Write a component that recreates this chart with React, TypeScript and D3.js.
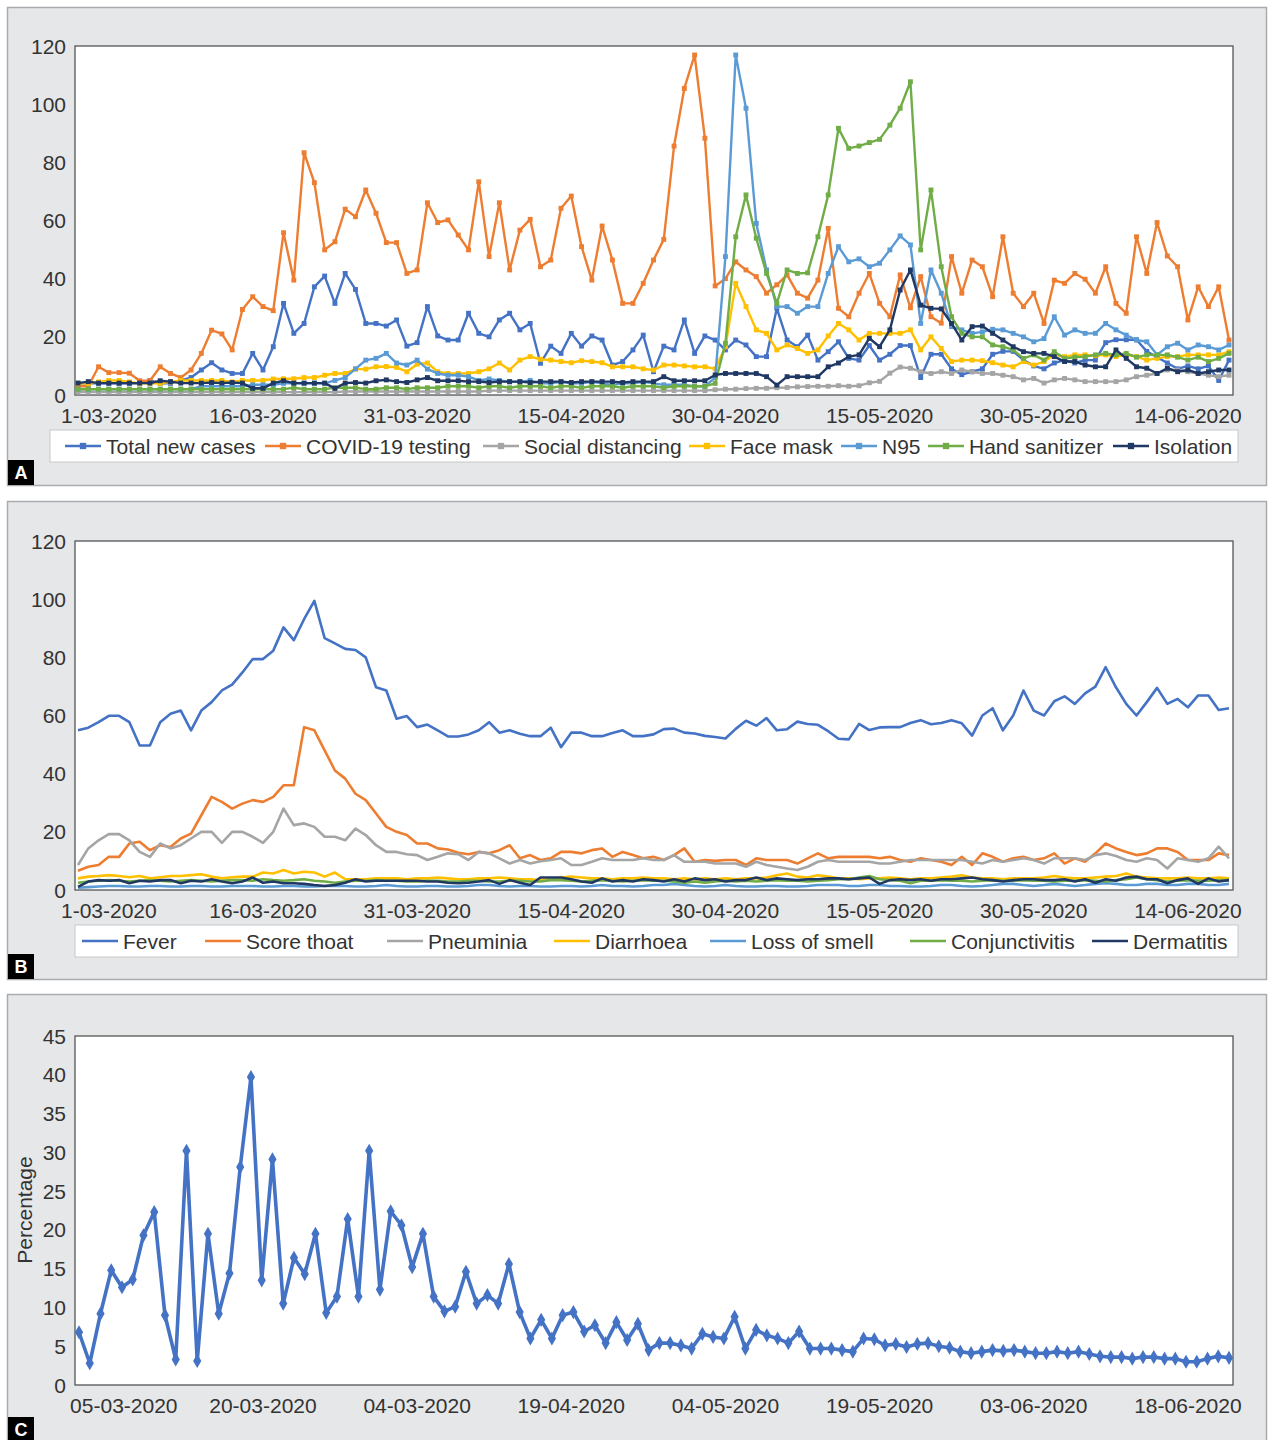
import React from "react";
import * as d3 from "d3";

// ---------- data ----------
const ticksAB = ["1-03-2020", "16-03-2020", "31-03-2020", "15-04-2020", "30-04-2020", "15-05-2020", "30-05-2020", "14-06-2020"];
const ticksC = ["05-03-2020", "20-03-2020", "04-03-2020", "19-04-2020", "04-05-2020", "19-05-2020", "03-06-2020", "18-06-2020"];
const tickDayIdx = [3, 18, 33, 48, 63, 78, 93, 108];

// panel A (113 days, 27-02-2020 .. 18-06-2020)
const totalNewCases = [4, 4, 4, 4, 4, 4, 4, 5, 4, 4, 5, 6, 8.6, 11.1, 8.6, 7.4, 7.4, 14.3, 8.6, 16.6, 31.5, 21.2, 24.6, 37.2, 40.9, 31.5, 41.8, 36.3, 24.6, 24.6, 23.7, 25.8, 16.8, 18, 30.4, 20.3, 18.9, 18.9, 28.1, 21.2, 20, 25.8, 28.1, 22.4, 24.6, 10.9, 16.8, 14.3, 21.2, 16.8, 20.3, 18.9, 10.3, 11.5, 15.5, 20.6, 8, 16.8, 15.5, 25.8, 14.3, 20.3, 18.9, 15.5, 18.9, 17.2, 13.2, 13.2, 29.8, 18.9, 16.6, 20.6, 12, 14.9, 18.3, 12.6, 12, 17, 12, 14, 17, 17, 6, 14, 14, 9, 7, 8, 9, 14, 15, 15, 12, 10, 9, 11, 12, 11, 12, 12, 18, 19, 19, 19, 15, 13, 11, 9, 10, 9, 10, 5, 12];
const covidTesting = [3, 3, 9.7, 7.7, 7.7, 7.5, 4.9, 4.9, 9.7, 7.4, 6, 8.6, 14.3, 22.3, 21, 15.5, 29.4, 33.8, 30.4, 29, 55.8, 39.5, 83.3, 73, 49.9, 52.7, 63.9, 61.3, 70.5, 62.5, 52.4, 52.4, 41.8, 43, 66.1, 59.3, 60.2, 55, 49.9, 73.3, 47.6, 66.1, 43, 56.7, 60.4, 44.1, 46.4, 64.2, 68.4, 51, 39.5, 58.1, 46.4, 31.5, 31.5, 38.4, 46.4, 53.5, 85.6, 105.4, 116.9, 88.3, 37.5, 40, 45.8, 43, 40.7, 35, 37.9, 41.3, 35, 33.3, 39.5, 57.3, 29.8, 26.9, 35, 41.8, 31.5, 26.9, 41.3, 30, 40.7, 26.9, 24.7, 47.6, 35, 46.4, 44.1, 33.8, 54.4, 35, 30.4, 35, 24.6, 39.5, 38.4, 41.8, 39.8, 35, 44.1, 31.5, 28.1, 54.4, 41.8, 59.3, 47.8, 44.1, 25.8, 37.2, 30.4, 37.2, 18.9];
const socialDistancing = [1, 1, 1, 1, 1, 1, 1, 1, 1, 1, 1, 1, 1, 1, 1, 1, 1, 1, 1, 1, 1, 1, 1, 1, 1, 1, 1.2, 1.2, 1.2, 1.2, 1.2, 1.2, 1.2, 1.2, 1.2, 1.2, 1.2, 1.2, 1.2, 1.2, 1.5, 1.5, 1.5, 1.5, 1.5, 1.5, 1.5, 1.5, 1.5, 1.5, 1.5, 1.5, 1.5, 1.5, 1.5, 1.5, 1.5, 1.5, 1.5, 1.5, 1.5, 1.5, 1.8, 2, 2, 2.2, 2.3, 2.3, 2.5, 2.6, 2.8, 2.9, 3, 3, 3.2, 3, 3.2, 4.2, 4.7, 7.5, 9.6, 9.2, 8, 7.4, 8, 7.4, 8.6, 8, 7.4, 7.4, 6.8, 6.3, 5.2, 5.7, 4.1, 5.2, 5.7, 5.2, 4.6, 4.6, 4.6, 4.6, 5.2, 6.3, 6.8, 7.4, 8.6, 8.6, 8, 7.4, 6.8, 6.3, 6.8];
const faceMask = [4, 4, 4.5, 5, 5, 4.5, 4, 4, 4, 4.5, 5, 5, 5, 5, 5, 4.5, 5, 5, 5, 5.5, 5.6, 5.6, 6, 6, 6.8, 7.4, 7.4, 8.9, 8.9, 9.7, 9.8, 9.5, 8, 10.6, 11, 8, 7.4, 7.4, 7.4, 8, 9, 11, 8.6, 12, 13.2, 12.3, 12, 11.5, 11.1, 11.8, 11.5, 11.1, 9.7, 9.7, 9.7, 9, 8.6, 10.3, 10.3, 10, 9.7, 9.7, 9, 16.6, 38.4, 30.4, 22.4, 21.2, 15.5, 17.2, 16, 14.3, 15.5, 20.3, 24.6, 22.4, 18.9, 21.2, 21.2, 21.2, 21.2, 22.4, 15.5, 20, 16, 11.5, 12, 12, 11.8, 11.1, 10.3, 9.7, 11.5, 10.3, 11.5, 13.8, 13.2, 13.8, 13.8, 13.5, 13.8, 13.2, 13.8, 13.2, 12, 12.6, 13.2, 13.2, 13.8, 13.8, 13.8, 13.8, 14.9];
const n95 = [2, 2, 2, 2, 2, 2, 2, 2, 2, 2, 2, 2, 3, 3, 3, 3, 3, 3.5, 3.5, 3.5, 4, 4, 4, 4, 4, 5, 6, 9, 12, 12.6, 14.3, 11, 10.3, 12, 8.9, 7.4, 6.8, 6.8, 6.3, 5, 5.5, 5, 4.5, 4.5, 5, 4, 4, 4.5, 4, 4, 4.5, 4, 3.5, 4, 4, 4.5, 4, 3.5, 3.5, 3.5, 3, 3, 6, 47.6, 116.9, 98.6, 59, 43, 30.4, 30.4, 28.1, 30.4, 30.4, 41.8, 51, 45.8, 46.8, 44.1, 45.3, 49.9, 54.7, 51.6, 24.6, 43, 35, 23.5, 22.4, 21.2, 21.7, 22.6, 22.4, 21.2, 20, 18.3, 19.4, 26.9, 20.6, 22.4, 21.2, 21.2, 24.6, 22.4, 20.6, 18.9, 18.3, 13.8, 16.6, 17.8, 15.5, 17.2, 16.6, 15.5, 17.2];
const handSanitizer = [2, 2, 2, 2, 2, 2, 2, 2, 2, 2, 2, 2, 2, 2, 2, 2, 2, 2, 2, 2, 2, 2.5, 2, 2, 2, 2.5, 2.5, 2.5, 2, 2, 2.5, 2.5, 2, 2.5, 2.5, 2.5, 3, 3, 3, 2.5, 3, 3, 2.5, 3, 3, 3, 2.5, 3, 3, 2.5, 3, 3, 3, 2.5, 3, 3, 3, 2.5, 3, 3, 3, 3, 4, 17.8, 54.4, 68.8, 53.9, 41.8, 31.5, 43, 41.8, 42, 54.4, 68.8, 91.7, 84.8, 85.6, 86.8, 87.9, 92.8, 98.6, 107.7, 49.9, 70.5, 44.1, 26.9, 21.2, 20, 20, 17.2, 16.6, 15.5, 12.6, 13.8, 12, 14.9, 12.6, 13, 13.2, 13.8, 14.3, 13.8, 14.3, 13, 13.8, 13.8, 13.8, 13, 12, 13, 11.5, 12.6, 14.3];
const isolation = [4.1, 4.6, 4.1, 4.1, 4.1, 4.1, 4.1, 4.1, 4.9, 4.6, 4.1, 4.1, 4.1, 4.3, 4.1, 4.3, 4.1, 2.3, 2.3, 4.1, 4.9, 4.1, 4.1, 4.1, 4.1, 2.3, 4.1, 4.3, 4.1, 4.9, 5.2, 4.6, 4.3, 5.2, 6, 4.9, 4.9, 4.9, 4.6, 4.6, 4.3, 4.6, 4.6, 4.6, 4.3, 4.6, 4.6, 4.6, 4.3, 4.6, 4.6, 4.6, 4.6, 4.3, 4.6, 4.6, 4.6, 6.3, 4.9, 4.9, 4.9, 4.9, 6.9, 7.4, 7.4, 7.4, 7.4, 6.3, 3.4, 6.3, 6.3, 6.3, 6.3, 9.7, 11, 13.2, 13.8, 19.5, 16.6, 22.4, 36.1, 43, 30.9, 29.8, 29.6, 24.6, 18.9, 23.5, 23.7, 21.2, 18.9, 16.6, 14.9, 14.3, 14.3, 13.2, 11.5, 11.5, 10.3, 9.7, 9.7, 15.5, 12.6, 9.7, 9.2, 7.4, 9.2, 8, 8.6, 7.4, 8, 8.6, 8.6];

// panel B (same 113 days)
const fever = [54.9, 55.8, 57.7, 59.9, 59.9, 57.7, 49.7, 49.7, 57.7, 60.6, 61.7, 54.9, 61.7, 64.6, 68.6, 70.6, 74.8, 79.4, 79.4, 82.3, 90.3, 85.9, 93.1, 99.4, 86.6, 84.8, 82.9, 82.5, 80, 69.7, 68.6, 58.9, 59.8, 56, 56.9, 54.9, 52.8, 52.8, 53.5, 54.9, 57.7, 54.1, 54.9, 53.7, 52.9, 52.9, 55.8, 49.1, 54.1, 54.1, 52.9, 52.9, 54, 54.9, 52.9, 52.9, 53.5, 55.3, 55.5, 54.1, 53.8, 53, 52.6, 52.1, 55.4, 58.2, 56.5, 59.1, 54.9, 55.3, 57.9, 57.1, 56.8, 54.6, 52, 51.8, 57.1, 55, 55.9, 56, 56, 57.4, 58.4, 57, 57.4, 58.4, 57.3, 53.1, 60, 62.5, 54.9, 60, 68.6, 61.7, 60, 64.9, 66.6, 64, 67.6, 69.9, 76.6, 69.7, 64, 60, 64.6, 69.5, 64, 65.7, 62.8, 66.9, 66.9, 61.9, 62.5];
const scoreThoat = [6.6, 8, 8.6, 11.4, 11.4, 16, 16.6, 13.7, 15.4, 14.8, 17.7, 19.4, 25.7, 32, 30.3, 28, 29.7, 30.9, 30.3, 32, 36, 36, 56, 54.9, 48, 41.1, 38.3, 33.1, 30.9, 26.3, 21.7, 20, 18.9, 16, 16, 14.3, 13.9, 12.8, 12.3, 13.1, 12.6, 13.7, 15.4, 10.9, 12, 10.3, 10.9, 13.1, 13.1, 12.6, 13.7, 14.3, 11.4, 13.1, 12, 10.9, 11.4, 10.3, 12, 14.3, 9.7, 10.3, 10, 10.3, 10.3, 8.6, 10.9, 10.3, 10.3, 10.3, 9.1, 10.9, 12.6, 10.9, 11.4, 11.4, 11.4, 11.4, 10.9, 11.4, 10.3, 9.7, 10.9, 10.3, 9.7, 8.6, 11.4, 8.6, 12.6, 11.4, 9.7, 10.9, 11.4, 10.3, 10.9, 12.6, 9.1, 10.9, 9.7, 12.6, 16, 14.3, 13.1, 12, 12.6, 14.3, 14.3, 13.1, 10.3, 10.3, 10.3, 12.6, 12];
const pneuminia = [8.6, 14.3, 17.1, 19.2, 19.2, 17.1, 13.1, 11.4, 16, 14.3, 15.4, 17.7, 20, 20, 16.2, 20, 20, 18.3, 16.2, 20, 28, 22.3, 22.9, 21.7, 18.3, 18.3, 17.1, 21.1, 18.9, 15.4, 13.1, 13.1, 12.3, 12, 10.3, 11.4, 12.6, 12.3, 10.3, 13.1, 12.6, 10.9, 9.1, 10.3, 9.1, 9.9, 10.3, 10.9, 8.6, 8.6, 9.7, 10.9, 10.3, 10.3, 10.3, 10.9, 10.3, 10.3, 12, 9.7, 9.7, 9.7, 9.1, 9.1, 9.1, 8, 9.7, 8.6, 8, 7.4, 6.9, 8, 9.7, 10.3, 9.7, 9.7, 9.7, 9.7, 9.1, 9.1, 9.7, 10.3, 10.3, 10.3, 10.3, 10.3, 10.3, 9.7, 9.1, 10.3, 9.7, 10.3, 10.9, 10.3, 9.1, 10.9, 10.9, 10.9, 10.3, 12, 12.6, 11.7, 10.3, 9.7, 10.9, 10.3, 7.4, 10.9, 10.3, 9.7, 10.9, 14.9, 10.9];
const diarrhoea = [4, 4.6, 4.8, 5.1, 4.8, 4.4, 4.8, 4, 4.4, 4.8, 4.8, 5.1, 5.4, 4.6, 4, 4.4, 4.6, 4.6, 6, 5.7, 6.9, 5.7, 6.3, 6, 4.6, 6, 3.7, 3.7, 3.7, 4, 4, 4, 3.7, 4, 4, 4.3, 4, 3.7, 3.7, 4, 4, 4.3, 4, 3.7, 3.7, 3.4, 3.7, 4.3, 4.6, 4.3, 4, 4, 3.7, 4, 4, 4.3, 4, 4, 3.7, 4, 3.7, 4, 3.7, 4, 3.7, 4, 4, 4.3, 5.1, 5.7, 4.6, 4.3, 5.1, 4.6, 4, 4, 3.7, 4, 4, 4.3, 4, 3.7, 4, 4, 4.3, 4.6, 5.1, 4.3, 4, 4, 3.7, 4, 4, 4, 4.3, 4.8, 4.3, 4, 4, 4.3, 4.6, 4.8, 5.7, 4.6, 4.3, 4, 4, 4, 4.3, 4, 4, 4.3, 4];
const lossOfSmell = [0.8, 1, 1.2, 1.4, 1.4, 1.2, 1.2, 1.4, 1.4, 1.2, 1.2, 1.4, 1.4, 1.2, 1.2, 1.4, 1.4, 1.4, 1.2, 1.2, 1.4, 1.4, 1.2, 1.2, 1.4, 1.4, 1.4, 1.2, 1.2, 1.4, 1.7, 1.4, 1.2, 1.2, 1.4, 1.4, 1.2, 1.2, 1.4, 1.7, 1.7, 1.4, 1.2, 1.4, 1.4, 1.2, 1.2, 1.4, 1.4, 1.2, 1.4, 1.7, 1.4, 1.4, 1.2, 1.4, 1.7, 1.7, 2.1, 1.7, 1.4, 1.2, 1.4, 1.7, 1.4, 1.2, 1.2, 1.4, 1.4, 1.2, 1.2, 1.4, 1.7, 1.7, 1.7, 1.4, 1.4, 1.7, 1.7, 1.4, 1.4, 1.2, 1.2, 1.4, 1.7, 1.7, 1.4, 1.2, 1.4, 1.7, 2.1, 2.1, 1.7, 1.4, 1.7, 2.1, 1.7, 1.4, 1.7, 2.1, 2.3, 2.1, 1.7, 1.7, 2.1, 2.1, 1.7, 1.7, 2.1, 2.1, 1.7, 1.7, 2.1];
const conjunctivitis = [2.5, 2.9, 3.2, 3.4, 3.2, 2.9, 3.2, 3.4, 3.2, 2.9, 3.2, 3.4, 3.2, 2.9, 3.2, 3.4, 3.4, 3.2, 3.7, 3.4, 3.2, 3.4, 3.7, 3.2, 2.9, 2.5, 2.9, 3.2, 3.2, 3.4, 3.2, 3.2, 2.9, 2.9, 3.2, 3.2, 2.9, 2.9, 3.2, 3.2, 2.9, 2.9, 3.2, 3.2, 2.9, 2.9, 3.4, 3.4, 3.2, 2.9, 3.2, 3.4, 3.2, 2.9, 3.2, 3.4, 3.2, 3.2, 2.9, 2.5, 2.9, 2.5, 2.9, 3.2, 2.9, 3.2, 2.9, 3.2, 3.4, 3.2, 3.2, 2.9, 3.2, 3.4, 3.7, 3.7, 4.3, 4.8, 3.7, 3.4, 3.2, 2.3, 3.2, 3.2, 3.4, 3.2, 3.2, 2.9, 3.2, 3.4, 3.2, 3.2, 3.4, 3.2, 3.2, 2.9, 3.2, 3.2, 3.4, 3.2, 2.9, 3.4, 3.7, 4.3, 3.7, 3.4, 2.9, 3.2, 3.4, 3.2, 3.2, 3.4, 3.4];
const dermatitis = [1.1, 2.9, 3.4, 3.2, 3.4, 2.3, 3.2, 2.9, 3.4, 3.4, 2.3, 3.2, 2.9, 3.7, 2.9, 2.3, 2.9, 4.3, 2.5, 2.9, 2.3, 2.3, 2.1, 1.7, 1.4, 1.7, 2.5, 3.7, 2.9, 3.2, 3.2, 3.2, 3.2, 3.2, 2.9, 2.9, 2.5, 2.3, 2.5, 2.9, 3.4, 2.1, 3.4, 2.5, 1.7, 4.3, 4.3, 4.3, 3.7, 2.9, 2.5, 4, 2.9, 3.4, 2.9, 3.7, 3.4, 2.9, 3.7, 2.9, 4, 3.4, 3.7, 2.9, 3.4, 3.4, 4.3, 3.4, 4, 3.7, 3.4, 3.7, 3.7, 4, 4, 3.7, 4, 4.3, 2.1, 3.4, 3.7, 3.4, 3.7, 3.2, 3.7, 3.7, 4, 4.3, 3.7, 3.4, 2.9, 3.4, 3.7, 3.7, 3.4, 3.4, 3.7, 2.9, 3.7, 2.5, 3.7, 3.2, 4.3, 4.6, 3.7, 3.7, 2.3, 3.4, 4, 2.1, 4, 2.9, 3.4];

// panel C (108 points)
const percentage = [6.8, 2.8, 9.2, 14.8, 12.6, 13.6, 19.3, 22.3, 9, 3.3, 30.2, 3.1, 19.5, 9.2, 14.4, 28.1, 39.7, 13.5, 29.1, 10.5, 16.4, 14.3, 19.5, 9.3, 11.4, 21.4, 11.4, 30.2, 12.3, 22.4, 20.6, 15.2, 19.5, 11.4, 9.5, 10.1, 14.6, 10.5, 11.6, 10.5, 15.6, 9.4, 6, 8.4, 6, 9, 9.4, 6.9, 7.7, 5.4, 8.1, 5.8, 7.9, 4.5, 5.4, 5.4, 5.1, 4.7, 6.6, 6.2, 6, 8.8, 4.7, 7.1, 6.4, 6, 5.4, 6.9, 4.7, 4.7, 4.7, 4.5, 4.3, 6, 5.9, 5.1, 5.3, 4.9, 5.3, 5.4, 5, 4.8, 4.3, 4.1, 4.3, 4.5, 4.4, 4.5, 4.3, 4.1, 4.1, 4.3, 4.1, 4.3, 4, 3.7, 3.6, 3.6, 3.4, 3.6, 3.6, 3.4, 3.4, 3, 3, 3.4, 3.7, 3.5];

const seriesA = [
  { name: "Total new cases", color: "#4472C4", values: totalNewCases },
  { name: "COVID-19 testing", color: "#ED7D31", values: covidTesting },
  { name: "Social distancing", color: "#A5A5A5", values: socialDistancing },
  { name: "Face mask", color: "#FFC000", values: faceMask },
  { name: "N95", color: "#5B9BD5", values: n95 },
  { name: "Hand sanitizer", color: "#70AD47", values: handSanitizer },
  { name: "Isolation", color: "#203864", values: isolation },
];
const seriesB = [
  { name: "Fever", color: "#4472C4", values: fever },
  { name: "Score thoat", color: "#ED7D31", values: scoreThoat },
  { name: "Pneuminia", color: "#A5A5A5", values: pneuminia },
  { name: "Diarrhoea", color: "#FFC000", values: diarrhoea },
  { name: "Loss of smell", color: "#5B9BD5", values: lossOfSmell },
  { name: "Conjunctivitis", color: "#70AD47", values: conjunctivitis },
  { name: "Dermatitis", color: "#203864", values: dermatitis },
];

// ---------- layout ----------
const FONT = "'Liberation Sans', Arial, Helvetica, sans-serif";
const TXT = "#333";
const PLOT_L = 75;
const PLOT_R = 1233;
const legendA = { x: 50, y: 430, w: 1188, textX: [106, 306, 524, 730, 882, 969, 1154] };
const legendB = { x: 75, y: 925, w: 1163, textX: [123, 246, 428, 595, 751, 951, 1133] };

const xDay = d3.scaleLinear().domain([0, 112]).range([78, 1229]);
const xPt = d3.scaleLinear().domain([0, percentage.length - 1]).range([79, 1229]);

const squarePath = d3.symbol().type(d3.symbolSquare).size(24)();
const legendSquare = d3.symbol().type(d3.symbolSquare).size(40)();
const diamondPath = d3.symbol().type(d3.symbolDiamond).size(58)();

function Frame({ y, h, letter, letterY }: any) {
  return (
    <g>
      <rect x={7.5} y={y} width={1259} height={h} fill="#e6e7e8" stroke="#a9abae" strokeWidth={1.5} />
      <rect x={8} y={letterY} width={26} height={25} fill="#000" />
      <text x={21} y={letterY + 19} textAnchor="middle" fill="#fff" fontWeight="bold" fontSize={18} fontFamily={FONT}>
        {letter}
      </text>
    </g>
  );
}

function Axes({ top, bottom, y, step, max, labels, labelDx }: any) {
  return (
    <g fontFamily={FONT} fontSize={21} fill={TXT}>
      <rect x={PLOT_L} y={top} width={PLOT_R - PLOT_L} height={bottom - top} fill="#fff" stroke="#555" strokeWidth={1.3} />
      {d3.range(0, max + 1, step).map((v) => (
        <text key={v} x={66} y={y(v) + 7.5} textAnchor="end">
          {v}
        </text>
      ))}
      {labels.map((t: string, i: number) => (
        <text key={t + i} x={xDay(tickDayIdx[i]) + (labelDx ? labelDx[i] : 0)} y={bottom + 28} textAnchor="middle">
          {t}
        </text>
      ))}
    </g>
  );
}

function Legend({ cfg, series, markers }: any) {
  return (
    <g fontFamily={FONT} fontSize={21} fill={TXT}>
      <rect x={cfg.x} y={cfg.y} width={cfg.w} height={32} fill="#fff" stroke="#c8c8c8" strokeWidth={1} />
      {series.map((s: any, i: number) => {
        const tx = cfg.textX[i];
        const cy = cfg.y + 16;
        return (
          <g key={s.name}>
            <line x1={tx - 41} x2={tx - 5} y1={cy} y2={cy} stroke={s.color} strokeWidth={2.5} />
            {markers && <path d={legendSquare as string} transform={`translate(${tx - 23},${cy})`} fill={s.color} />}
            <text x={tx} y={cy + 7.5}>
              {s.name}
            </text>
          </g>
        );
      })}
    </g>
  );
}

export default function App() {
  const yA = d3.scaleLinear().domain([0, 120]).range([395, 46]);
  const yB = d3.scaleLinear().domain([0, 120]).range([890, 541]);
  const yC = d3.scaleLinear().domain([0, 45]).range([1385, 1036]);

  const lineA = d3.line<number>().x((_, i) => xDay(i)).y((d) => yA(d));
  const lineB = d3.line<number>().x((_, i) => xDay(i)).y((d) => yB(d));
  const lineC = d3.line<number>().x((_, i) => xPt(i)).y((d) => yC(d));

  return (
    <>
      <style>{`body{margin:0;background:#fff}`}</style>
      <svg width={1273} height={1440} style={{ display: "block" }}>
        <rect width={1273} height={1440} fill="#fff" />

        {/* Panel A */}
        <Frame y={7.5} h={478} letter="A" letterY={460} />
        <Axes top={46} bottom={395} y={yA} step={20} max={120} labels={ticksAB} />
        <g>
          {seriesA.map((s) => (
            <g key={s.name}>
              <path d={lineA(s.values) as string} fill="none" stroke={s.color} strokeWidth={2.4} strokeLinejoin="round" />
              {s.values.map((v, i) => (
                <path key={i} d={squarePath as string} transform={`translate(${xDay(i)},${yA(v)})`} fill={s.color} />
              ))}
            </g>
          ))}
        </g>
        <Legend cfg={legendA} series={seriesA} markers />

        {/* Panel B */}
        <Frame y={501.5} h={478} letter="B" letterY={954} />
        <Axes top={541} bottom={890} y={yB} step={20} max={120} labels={ticksAB} />
        <g>
          {seriesB.map((s) => (
            <path key={s.name} d={lineB(s.values) as string} fill="none" stroke={s.color} strokeWidth={2.6} strokeLinejoin="round" />
          ))}
        </g>
        <Legend cfg={legendB} series={seriesB} markers={false} />

        {/* Panel C */}
        <Frame y={994.5} h={460} letter="C" letterY={1417} />
        <Axes top={1036} bottom={1385} y={yC} step={5} max={45} labels={ticksC} labelDx={[15, 0, 0, 0, 0, 0, 0, 0]} />
        <text
          transform="translate(32,1210) rotate(-90)"
          textAnchor="middle"
          fontFamily={FONT}
          fontSize={21}
          fill={TXT}
        >
          Percentage
        </text>
        <g>
          <path d={lineC(percentage) as string} fill="none" stroke="#4472C4" strokeWidth={3.6} strokeLinejoin="round" />
          {percentage.map((v, i) => (
            <path key={i} d={diamondPath as string} transform={`translate(${xPt(i)},${yC(v)})`} fill="#4472C4" />
          ))}
        </g>
      </svg>
    </>
  );
}
